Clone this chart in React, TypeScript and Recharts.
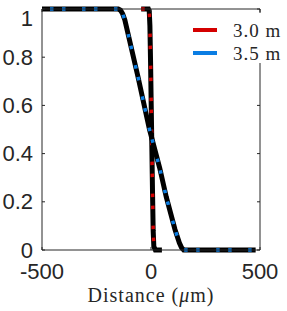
import { LineChart, Line, XAxis, YAxis, Legend } from "recharts";

// distance (um) and normalised profile, 3.0 m (sharp step)
const dist30 = [-45, -12, -8, -5, -2, 1, 4, 7, 10, 13, 20, 50];
const prof30 = [1, 1, 0.99, 0.93, 0.78, 0.6, 0.42, 0.24, 0.08, 0.015, 0, 0];

// 3.5 m (broad ramp)
const dist35 = [-500, -150, -140, -130, -120, -60, -7, 40, 70, 110, 130, 140, 150, 480];
const prof35 = [1, 1, 0.995, 0.98, 0.955, 0.72, 0.5, 0.34, 0.22, 0.085, 0.03, 0.01, 0, 0];

const xTicks = [-500, 0, 500];
const yTicks = [0, 0.2, 0.4, 0.6, 0.8, 1];

const RED = "#d40000";
const BLUE = "#0a7de3";
const AXIS = "#262626";
const DASH = "3.5 8.5 3.5 16.5";

const data30 = dist30.map((x, i) => ({ x, y: prof30[i] }));
const data35 = dist35.map((x, i) => ({ x, y: prof35[i] }));

const sans = "'Liberation Sans', Arial, sans-serif";
const serif = "'Liberation Serif', 'Times New Roman', serif";

function BottomTick({ x, y, payload }: any) {
  return (
    <g>
      <line x1={x} y1={y} x2={x} y2={y - 3} stroke={AXIS} />
      <text x={x} y={y + 29} textAnchor="middle" fill={AXIS} fontFamily={sans} fontSize={22}>
        {payload.value}
      </text>
    </g>
  );
}

function LeftTick({ x, y, payload }: any) {
  const shift = payload.value === 1 ? 17 : 7.5;
  return (
    <g>
      <line x1={x} y1={y} x2={x + 3} y2={y} stroke={AXIS} />
      <text x={x - 9} y={y + shift} textAnchor="end" fill={AXIS} fontFamily={sans} fontSize={22}>
        {payload.value}
      </text>
    </g>
  );
}

function TopTick({ x, y }: any) {
  return <line x1={x} y1={y} x2={x} y2={y + 3} stroke={AXIS} />;
}

function RightTick({ x, y }: any) {
  return <line x1={x} y1={y} x2={x - 3} y2={y} stroke={AXIS} />;
}

function XLabel({ viewBox }: any) {
  const { x, y, width } = viewBox;
  return (
    <text
      x={x + width / 2}
      y={y + 52}
      textAnchor="middle"
      fill={AXIS}
      fontFamily={serif}
      fontSize={20}
      letterSpacing={1}
    >
      Distance (<tspan fontStyle="italic">μ</tspan>m)
    </text>
  );
}

function renderLegend() {
  const rows = [
    { label: "3.0 m", color: RED },
    { label: "3.5 m", color: BLUE },
  ];
  return (
    <svg width={99} height={50} style={{ display: "block", background: "#fff" }}>
      {rows.map((r, i) => (
        <g key={r.label}>
          <line x1={5} x2={29} y1={17 + i * 23} y2={17 + i * 23} stroke={r.color} strokeWidth={4} />
          <text
            x={45}
            y={23.5 + i * 23}
            fill={AXIS}
            fontFamily={serif}
            fontSize={19}
            letterSpacing={1}
          >
            {r.label}
          </text>
        </g>
      ))}
    </svg>
  );
}

export default function App() {
  return (
    <div style={{ position: "absolute", left: 0, top: 0, background: "#fff" }}>
      <LineChart width={287} height={311} margin={{ top: 8, right: 26, bottom: 0, left: 0 }}>
        <XAxis
          dataKey="x"
          type="number"
          domain={[-500, 500]}
          ticks={xTicks}
          height={61}
          tickSize={0}
          tickMargin={0}
          tickLine={false}
          tick={<BottomTick />}
          axisLine={{ stroke: AXIS }}
          label={<XLabel />}
        />
        <XAxis
          xAxisId="top"
          dataKey="x"
          orientation="top"
          type="number"
          domain={[-500, 500]}
          ticks={xTicks}
          height={1}
          tickSize={0}
          tickMargin={0}
          tickLine={false}
          tick={<TopTick />}
          axisLine={{ stroke: AXIS }}
        />
        <YAxis
          type="number"
          domain={[0, 1]}
          ticks={yTicks}
          width={42}
          tickSize={0}
          tickMargin={0}
          tickLine={false}
          tick={<LeftTick />}
          axisLine={{ stroke: AXIS }}
        />
        <YAxis
          yAxisId="right"
          orientation="right"
          type="number"
          domain={[0, 1]}
          ticks={yTicks}
          width={1}
          tickSize={0}
          tickMargin={0}
          tickLine={false}
          tick={<RightTick />}
          axisLine={{ stroke: AXIS }}
        />
        <Legend
          layout="vertical"
          align="center"
          verticalAlign="middle"
          content={renderLegend}
          wrapperStyle={{ top: 13, left: 188, width: 99, height: 50 }}
        />
        <Line data={data30} dataKey="y" stroke="#000" strokeWidth={5} dot={false} legendType="none" isAnimationActive={false} />
        <Line data={data30} dataKey="y" xAxisId="top" yAxisId="right" name="3.0 m" stroke={RED} strokeWidth={3.5} strokeDasharray={DASH} dot={false} isAnimationActive={false} />
        <Line data={data35} dataKey="y" stroke="#000" strokeWidth={5} dot={false} legendType="none" isAnimationActive={false} />
        <Line data={data35} dataKey="y" xAxisId="top" yAxisId="right" name="3.5 m" stroke={BLUE} strokeWidth={3.5} strokeDasharray={DASH} strokeDashoffset={-8} dot={false} isAnimationActive={false} />
      </LineChart>
    </div>
  );
}
